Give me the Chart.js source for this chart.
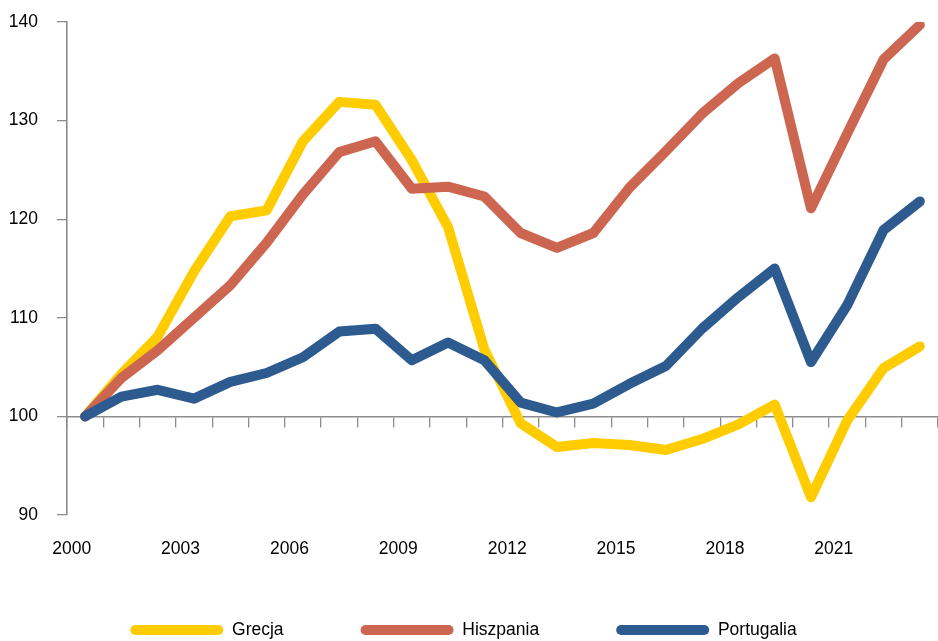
<!DOCTYPE html>
<html>
<head>
<meta charset="utf-8">
<script src="https://cdn.jsdelivr.net/npm/chart.js@4/dist/chart.umd.min.js"></script>
<style>
  html, body { margin: 0; padding: 0; background: #fff; }
  #wrap { width: 938px; height: 641px; }
</style>
</head>
<body>
<div id="wrap"><canvas id="c" width="938" height="641"></canvas></div>
<script>
const years = ['2000','2001','2002','2003','2004','2005','2006','2007','2008','2009','2010','2011','2012','2013','2014','2015','2016','2017','2018','2019','2020','2021','2022','2023'];
const tickYears = ['2000','2003','2006','2009','2012','2015','2018','2021'];
const yTicks = [90, 100, 110, 120, 130, 140];

const grecja =     [100, 104.3, 108.1, 114.7, 120.3, 120.9, 127.9, 131.9, 131.6, 126.0, 119.2, 106.8, 99.3, 96.9, 97.3, 97.1, 96.6, 97.7, 99.2, 101.2, 91.8, 99.6, 104.9, 107.1];
const hiszpania =  [100, 103.9, 106.7, 110.0, 113.3, 117.6, 122.5, 126.8, 127.9, 123.1, 123.3, 122.3, 118.6, 117.1, 118.6, 123.2, 126.9, 130.7, 133.8, 136.3, 121.1, 128.7, 136.2, 139.7];
const portugalia = [100, 102.0, 102.7, 101.8, 103.5, 104.4, 106.0, 108.6, 108.9, 105.7, 107.5, 105.7, 101.4, 100.4, 101.3, 103.3, 105.1, 108.9, 112.1, 115.0, 105.5, 111.3, 118.9, 121.8];

const seriesNames = ['Grecja', 'Hiszpania', 'Portugalia'];
const seriesColors = ['#FFCC00', '#CD6650', '#2D5A8F'];

const FONT = '"Liberation Sans", Arial, sans-serif';
const FS = 17.5;
const AXIS = '#8C8C8C';
const LEGEND_Y = 630;
const LEGEND_SHIFT = -12;

const legendPlace = {
  id: 'legendPlace',
  afterLayout(chart) {
    const lg = chart.legend;
    const pad = lg.options.labels.padding;
    lg.top = LEGEND_Y - FS / 2 - pad;
    lg.bottom = chart.height;
    lg.height = lg.bottom - lg.top;
    lg.left += LEGEND_SHIFT;
    lg.right += LEGEND_SHIFT;
  }
};

const mk = (i, data, order) => ({
  label: seriesNames[i],
  data: data,
  borderColor: seriesColors[i],
  backgroundColor: seriesColors[i],
  borderWidth: 10,
  pointRadius: 0,
  pointHoverRadius: 0,
  tension: 0,
  borderCapStyle: 'round',
  borderJoinStyle: 'round',
  order: order,
  xAxisID: 'x',
  yAxisID: 'y'
});

new Chart(document.getElementById('c'), {
  type: 'line',
  data: {
    labels: years,
    datasets: [mk(0, grecja, 3), mk(1, hiszpania, 2), mk(2, portugalia, 1)]
  },
  options: {
    responsive: false,
    devicePixelRatio: 1,
    animation: false,
    events: [],
    layout: { padding: { left: 9, right: -4, top: 22, bottom: 41 } },
    plugins: {
      tooltip: { enabled: false },
      legend: {
        display: true,
        position: 'bottom',
        maxHeight: 40,
        labels: {
          boxWidth: 93,
          boxHeight: 10,
          useBorderRadius: true,
          borderRadius: 5,
          padding: 77,
          color: '#000',
          font: { family: FONT, size: FS },
          generateLabels(chart) {
            const items = Chart.defaults.plugins.legend.labels.generateLabels(chart);
            items.forEach(it => { it.lineWidth = 0; it.strokeStyle = 'rgba(0,0,0,0)'; });
            items.sort((a, b) => a.datasetIndex - b.datasetIndex);
            return items;
          }
        }
      }
    },
    scales: {
      x: {
        type: 'category',
        position: 'bottom',
        offset: true,
        grid: { display: false, drawTicks: false, offset: true },
        border: { display: false },
        afterFit(s) { s.paddingLeft = 0; s.paddingRight = 0; s.height = 45; },
        ticks: {
          autoSkip: false,
          maxRotation: 0,
          minRotation: 0,
          padding: 24,
          labelOffset: -13.5,
          color: '#000',
          font: { family: FONT, size: FS },
          callback: function(v, i) {
            const lab = this.getLabelForValue(v);
            return tickYears.includes(lab) ? lab : '';
          }
        }
      },
      x2: {
        type: 'category',
        position: { y: 100 },
        offset: true,
        grid: { display: true, drawOnChartArea: false, drawTicks: true, tickLength: 10, color: AXIS, lineWidth: 1.3, offset: true },
        border: { display: true, color: AXIS, width: 1.6 },
        ticks: { display: false, autoSkip: false }
      },
      y: {
        type: 'linear',
        position: 'left',
        min: 90,
        max: 140,
        afterBuildTicks(scale) { scale.ticks = yTicks.map(v => ({ value: v })); },
        afterFit(s) { s.paddingTop = 0; s.paddingBottom = 0; s.width = 58; },
        grid: { display: true, drawOnChartArea: false, drawTicks: true, tickLength: 10, color: AXIS, lineWidth: 1.3 },
        border: { display: true, color: AXIS, width: 1.6 },
        ticks: {
          padding: 19,
          color: '#000',
          font: { family: FONT, size: FS }
        }
      }
    }
  },
  plugins: [legendPlace]
});
</script>
</body>
</html>
